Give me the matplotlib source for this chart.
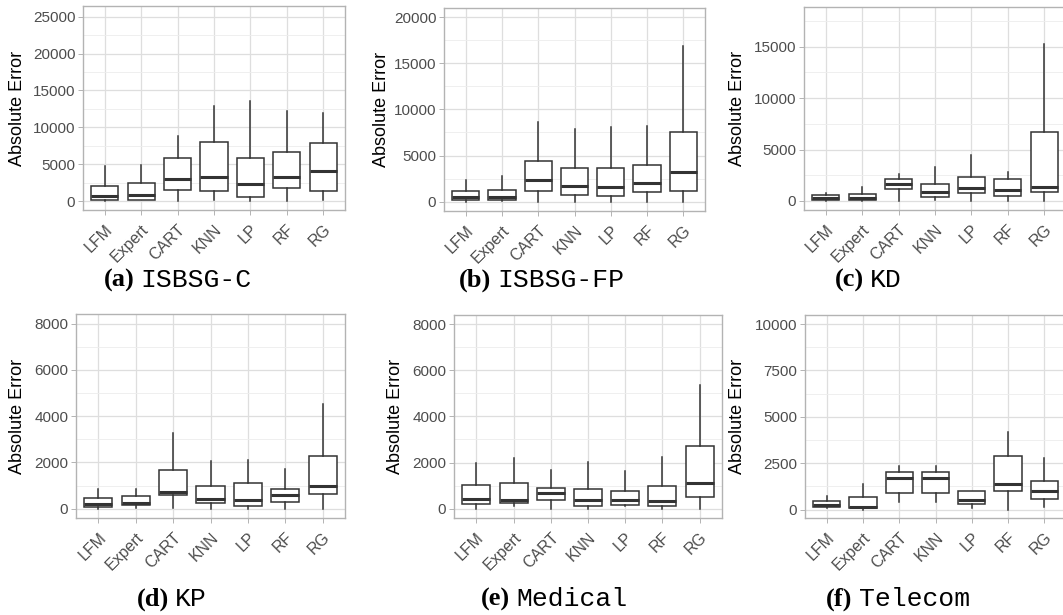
import matplotlib
matplotlib.use("Agg")
import matplotlib.pyplot as plt
from matplotlib.ticker import MultipleLocator

methods = ["LFM", "Expert", "CART", "KNN", "LP", "RF", "RG"]

# ---- (a) ISBSG-C ----
isbsg_c_low = [0, 100, 0, 200, 0, 0, 100]
isbsg_c_q1 = [140, 200, 1450, 1300, 600, 1800, 1350]
isbsg_c_med = [680, 800, 2950, 3200, 2350, 3300, 4070]
isbsg_c_q3 = [2000, 2400, 5900, 8050, 5800, 6700, 7900]
isbsg_c_high = [4800, 4900, 8800, 12900, 13550, 12250, 11900]

# ---- (b) ISBSG-FP ----
isbsg_fp_low = [0, 50, 0, 0, 0, 0, 0]
isbsg_fp_q1 = [200, 200, 1200, 700, 580, 1000, 1200]
isbsg_fp_med = [500, 500, 2300, 1750, 1550, 2030, 3200]
isbsg_fp_q3 = [1200, 1250, 4400, 3600, 3600, 4000, 7550]
isbsg_fp_high = [2400, 2800, 8600, 7900, 8100, 8200, 16900]

# ---- (c) KD ----
kd_low = [0, 0, 0, 100, 0, 0, 0]
kd_q1 = [100, 100, 1140, 400, 750, 450, 900]
kd_med = [260, 250, 1620, 850, 1230, 1040, 1360]
kd_q3 = [550, 650, 2150, 1620, 2370, 2100, 6720]
kd_high = [750, 1400, 2630, 3280, 4420, 2860, 15300]

# ---- (d) KP ----
kp_low = [0, 50, 50, 0, 0, 0, 0]
kp_q1 = [90, 160, 590, 230, 100, 290, 620]
kp_med = [200, 250, 720, 400, 390, 580, 1000]
kp_q3 = [450, 530, 1670, 1000, 1120, 850, 2280]
kp_high = [860, 860, 3270, 2070, 2100, 1730, 4520]

# ---- (e) Medical ----
medical_low = [0, 100, 0, 0, 100, 0, 0]
medical_q1 = [200, 260, 370, 120, 170, 100, 500]
medical_med = [430, 390, 680, 400, 360, 350, 1120]
medical_q3 = [1020, 1100, 920, 860, 780, 990, 2710]
medical_high = [1970, 2190, 1690, 2020, 1640, 2250, 5360]

# ---- (f) Telecom ----
telecom_low = [100, 0, 430, 430, 70, 0, 130]
telecom_q1 = [140, 70, 900, 900, 290, 990, 560]
telecom_med = [230, 140, 1730, 1730, 540, 1390, 1030]
telecom_q3 = [450, 670, 2040, 2040, 1030, 2900, 1550]
telecom_high = [740, 1400, 2340, 2340, 1030, 4200, 2790]

W, H = 1063, 615
fig = plt.figure(figsize=(W / 100, H / 100), dpi=100)

panels = [
    ((isbsg_c_low, isbsg_c_q1, isbsg_c_med, isbsg_c_q3, isbsg_c_high),
     (83, 6, 345, 210), (-1220, 26450), 5000, 2500, 18, "(a)", "ISBSG-C", 178, 280),
    ((isbsg_fp_low, isbsg_fp_q1, isbsg_fp_med, isbsg_fp_q3, isbsg_fp_high),
     (444, 8, 705, 211), (-1010, 20980), 5000, 2500, 382, "(b)", "ISBSG-FP", 542, 280),
    ((kd_low, kd_q1, kd_med, kd_q3, kd_high),
     (804, 7, 1066, 210), (-880, 18860), 5000, 2500, 738, "(c)", "KD", 868, 280),
    ((kp_low, kp_q1, kp_med, kp_q3, kp_high),
     (76, 314, 345, 518), (-400, 8420), 2000, 1000, 18, "(d)", "KP", 172, 599),
    ((medical_low, medical_q1, medical_med, medical_q3, medical_high),
     (454, 315, 722, 518), (-400, 8390), 2000, 1000, 396, "(e)", "Medical", 554, 599),
    ((telecom_low, telecom_q1, telecom_med, telecom_q3, telecom_high),
     (805, 315, 1066, 518), (-450, 10490), 2500, 1250, 738, "(f)", "Telecom", 898, 599),
]

box_col = "#333333"
grid_col = "#DEDEDE"
minor_col = "#EDEDED"
border_col = "#B3B3B3"

fig.canvas.draw()
renderer = fig.canvas.get_renderer()

for (stats, (l, t, r, b), ylim, major, minor, ylx, tag, name, cx, cy) in panels:
    ax = fig.add_axes([l / W, 1 - b / H, (r - l) / W, (b - t) / H])
    lo, q1, med, q3, hi = stats
    bstats = []
    for i, m in enumerate(methods):
        bstats.append(dict(label=m, whislo=lo[i], q1=q1[i], med=med[i],
                           q3=q3[i], whishi=hi[i], fliers=[]))
    ax.bxp(bstats, positions=range(1, len(methods) + 1), widths=0.75,
           showcaps=False, showfliers=False, patch_artist=True,
           boxprops=dict(facecolor="white", edgecolor=box_col, linewidth=1.1),
           whiskerprops=dict(color=box_col, linewidth=1.1),
           medianprops=dict(color=box_col, linewidth=2.2, solid_capstyle="butt"),
           zorder=3)
    ax.set_xlim(0.4, len(methods) + 0.6)
    ax.set_ylim(*ylim)
    ax.yaxis.set_major_locator(MultipleLocator(major))
    ax.yaxis.set_minor_locator(MultipleLocator(minor))
    ax.set_xticks(range(1, len(methods) + 1))
    ax.set_xticklabels(methods, rotation=45, ha="right", rotation_mode="anchor",
                       fontsize=11.5, color="#4D4D4D", family="Liberation Sans")
    for lab in ax.get_yticklabels():
        lab.set_fontsize(11)
        lab.set_color("#4D4D4D")
        lab.set_family("Liberation Sans")
    ax.tick_params(axis="both", which="major", color=border_col, length=3.5, width=0.7, pad=2)
    ax.tick_params(axis="x", which="major", pad=5)
    ax.tick_params(axis="y", which="minor", length=0)
    ax.grid(True, which="major", color=grid_col, linewidth=0.9, zorder=0)
    ax.grid(True, which="minor", axis="y", color=minor_col, linewidth=0.6, zorder=0)
    ax.set_axisbelow(True)
    for s in ax.spines.values():
        s.set_color(border_col)
        s.set_linewidth(1.0)
    ax.set_facecolor("white")
    fig.text(ylx / W, 1 - ((t + b) / 2) / H, "Absolute Error", rotation=90,
             ha="center", va="center", fontsize=13, family="Liberation Sans")

    # caption: bold serif tag + monospace dataset name, centred at cx
    t1 = fig.text(0, 0, tag, fontsize=19, fontweight="bold", family="Liberation Serif",
                  ha="left", va="center")
    t2 = fig.text(0, 0, name, fontsize=19, family="Liberation Mono",
                  ha="left", va="center")
    w1 = t1.get_window_extent(renderer).width
    w2 = t2.get_window_extent(renderer).width
    gap = 6
    total = w1 + gap + w2
    x0 = cx - total / 2
    t1.set_position((x0 / W, 1 - cy / H))
    t2.set_position(((x0 + w1 + gap) / W, 1 - cy / H))

fig.savefig("out.png", dpi=100)
